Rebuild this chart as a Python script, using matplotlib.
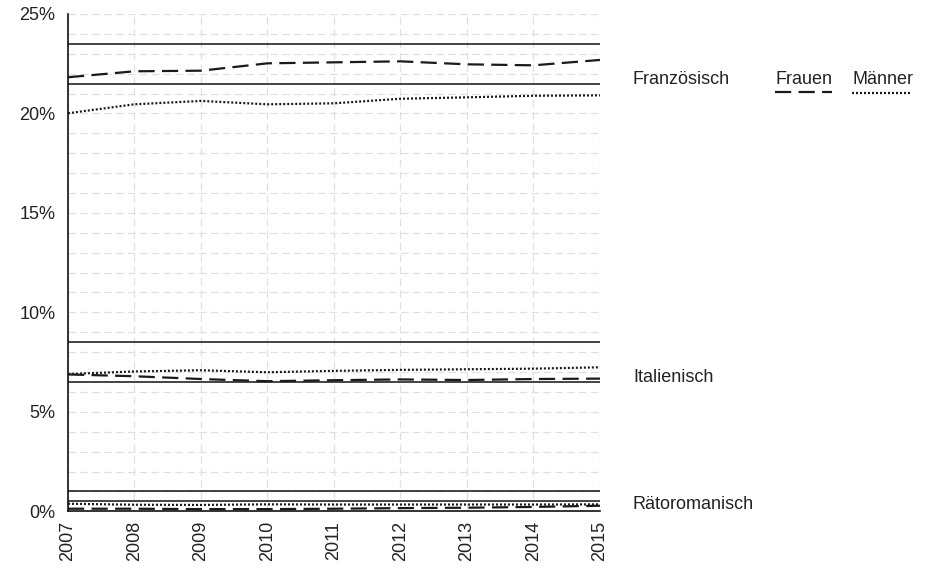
"""Anteil der Landessprachen (Hauptsprache), Frauen und Männer, 2007-2015."""

import matplotlib
matplotlib.use("Agg")
import matplotlib.pyplot as plt
from matplotlib.lines import Line2D
from matplotlib.ticker import FuncFormatter, MultipleLocator

plt.rcParams["font.family"] = ["Liberation Sans", "DejaVu Sans"]

years = [2007, 2008, 2009, 2010, 2011, 2012, 2013, 2014, 2015]
languages = ["Französisch", "Italienisch", "Rätoromanisch"]

# share in percent
french_women = [21.82, 22.12, 22.15, 22.52, 22.57, 22.62, 22.47, 22.42, 22.69]
french_men = [20.01, 20.46, 20.63, 20.46, 20.51, 20.74, 20.81, 20.89, 20.91]
italian_women = [6.88, 6.79, 6.65, 6.54, 6.59, 6.63, 6.60, 6.65, 6.67]
italian_men = [6.90, 7.03, 7.09, 6.99, 7.06, 7.11, 7.14, 7.17, 7.24]
romansh_women = [0.13, 0.13, 0.11, 0.11, 0.13, 0.16, 0.18, 0.22, 0.28]
romansh_men = [0.38, 0.33, 0.32, 0.35, 0.34, 0.34, 0.34, 0.34, 0.35]

# reference bands (lower, upper) in percent
bands = [(21.5, 23.5), (6.5, 8.5), (0.5, 1.0)]
label_y = [21.7, 6.75, 0.32]

women = [french_women, italian_women, romansh_women]
men = [french_men, italian_men, romansh_men]

TEXT = "#222222"
LINE = "#1a1a1a"
DASHED = (0, (7.3, 3.3))
DOTTED = (0, (0.9, 0.9))

fig = plt.figure(figsize=(9.3, 5.69), dpi=100)
ax = fig.add_axes([0.0731, 0.1014, 0.572, 0.874])

ax.set_xlim(2007, 2015)
ax.set_ylim(0, 25)

ax.xaxis.set_major_locator(MultipleLocator(1))
ax.yaxis.set_major_locator(MultipleLocator(5))
ax.yaxis.set_minor_locator(MultipleLocator(1))
ax.yaxis.set_major_formatter(FuncFormatter(lambda v, _: f"{v:.0f}%"))

ax.grid(True, which="both", color="#e0e0e0", linestyle=(0, (6, 3.5)),
        linewidth=0.9)
ax.set_axisbelow(True)

for side in ["top", "right"]:
    ax.spines[side].set_visible(False)
for side in ["left", "bottom"]:
    ax.spines[side].set_linewidth(1.2)
    ax.spines[side].set_color("#111111")

ax.tick_params(axis="both", which="both", length=0, labelsize=13, colors=TEXT)
ax.tick_params(axis="y", pad=9)
ax.tick_params(axis="x", pad=7, labelrotation=90)

for lo, hi in bands:
    ax.axhline(lo, color="#111111", linewidth=1.1)
    ax.axhline(hi, color="#111111", linewidth=1.1)

for w, m in zip(women, men):
    ax.plot(years, w, color=LINE, linewidth=1.6, linestyle=DASHED,
            clip_on=False)
    ax.plot(years, m, color=LINE, linewidth=1.6, linestyle=DOTTED,
            clip_on=False)

for name, y in zip(languages, label_y):
    ax.text(1.062, y, name, transform=ax.get_yaxis_transform(),
            fontsize=13, color=TEXT, va="center", ha="left")

# legend drawn by hand: label text with a line sample below it
fig.text(775 / 930, 1 - 80 / 569, "Frauen", fontsize=13, color=TEXT,
         va="center", ha="left")
fig.text(852 / 930, 1 - 80 / 569, "Männer", fontsize=13, color=TEXT,
         va="center", ha="left")
fig.add_artist(Line2D([775 / 930, 832 / 930], [1 - 92 / 569, 1 - 92 / 569],
                      transform=fig.transFigure, color=LINE,
                      linewidth=1.6, linestyle=DASHED))
fig.add_artist(Line2D([852 / 930, 912 / 930], [1 - 93 / 569, 1 - 93 / 569],
                      transform=fig.transFigure, color=LINE,
                      linewidth=1.6, linestyle=DOTTED))

fig.savefig("out.png", dpi=100)
